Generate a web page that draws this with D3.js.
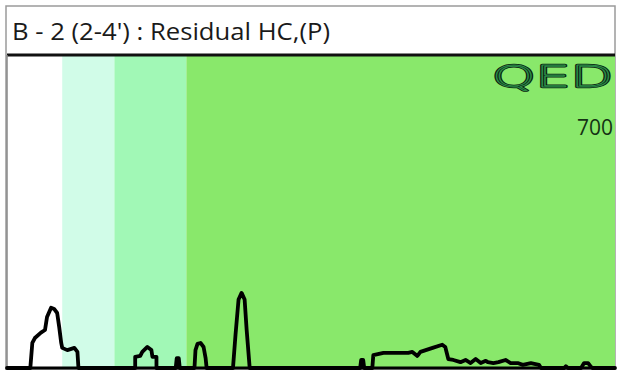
<!DOCTYPE html>
<html>
<head>
<meta charset="utf-8">
<script src="https://cdn.jsdelivr.net/npm/d3@7"></script>
<style>
  body { margin: 0; background: #fff; }
  svg { display: block; }
</style>
</head>
<body>
<div id="chart"></div>
<script>
//绘图尺寸
const width = 620;
const height = 370;

// 标题及标注
const title = "B - 2 (2-4') : Residual HC,(P)";
const scaleLabel = "700";
const logoText = "QED";

// 碳数区间底色 (保留时间, 分钟)
const bandStarts = [0, 1.09, 2.12, 3.54];
const bandEnds = [1.09, 2.12, 3.54, 12];
const bandColors = ["#ffffff", "#d1fce8", "#a1f8b6", "#89e86b"];

// 色谱线
const traceTime = [0, 0.46, 0.50, 0.55, 0.67, 0.75, 0.79, 0.87, 0.93, 0.99, 1.03, 1.07, 1.09, 1.19, 1.33, 1.39, 1.41,
    2.53, 2.53, 2.63, 2.67, 2.77, 2.85, 2.87, 2.95, 2.95,
    3.33, 3.35, 3.39, 3.41,
    3.70, 3.72, 3.76, 3.82, 3.88, 3.92, 3.94,
    4.46, 4.51, 4.57, 4.63, 4.69, 4.73, 4.79,
    6.97, 6.99, 7.03, 7.05,
    7.21, 7.23, 7.43, 7.70, 7.92, 8.00, 8.10, 8.16, 8.40, 8.59, 8.65, 8.71, 8.81, 8.95, 9.05, 9.15, 9.25, 9.35, 9.45,
    9.49, 9.60, 9.70, 9.84, 9.94, 10.08, 10.18, 10.34, 10.50, 10.54,
    11.00, 11.03, 11.07, 11.33, 11.39, 11.47, 11.53, 11.56, 12];
const traceSignal = [0, 0, 56, 67, 79, 85, 114, 135, 132, 123, 92, 56, 45, 40, 45, 36, 0,
    0, 25, 27, 36, 47, 40, 25, 25, 0,
    0, 22, 22, 0,
    0, 40, 54, 56, 47, 22, 0,
    0, 74, 153, 168, 153, 85, 0,
    0, 18, 18, 0,
    0, 29, 34, 34, 34, 36, 27, 36, 45, 52, 47, 20, 18, 13, 18, 11, 20, 11, 16,
    13, 11, 13, 18, 11, 11, 7, 11, 7, 0,
    0, 4, 0, 0, 11, 11, 2, 0, 0];

const frame = {left: 6, top: 6, right: 615, bottom: 369};
const plot = {left: 7, top: 55, right: 615, bottom: 368};

var svg = d3.select("#chart").append("svg")
    .attr("width", width).attr("height", height);

var x = d3.scaleLinear().domain([0, 12]).range([plot.left, plot.right]);
var y = d3.scaleLinear().domain([0, 700]).range([plot.bottom, plot.top]);

// 外框
svg.append("rect")
    .attr("x", frame.left).attr("y", frame.top)
    .attr("width", frame.right - frame.left).attr("height", frame.bottom - frame.top)
    .attr("fill", "#fff").attr("stroke", "#9a9a9a").attr("stroke-width", 1.5);

svg.append("text")
    .attr("x", 12).attr("y", 40)
    .attr("font-family", "'Open Sans', sans-serif")
    .attr("font-size", 23)
    .attr("fill", "#1a1a1a")
    .attr("textLength", 318)
    .attr("lengthAdjust", "spacingAndGlyphs")
    .text(title);

// 底色
svg.append("g").selectAll("rect")
    .data(bandStarts)
    .enter()
    .append("rect")
    .attr("x", d => x(d))
    .attr("y", plot.top)
    .attr("width", (d, i) => x(bandEnds[i]) - x(d))
    .attr("height", plot.bottom - plot.top)
    .attr("fill", (d, i) => bandColors[i]);

// 上边框 & 左边框
svg.append("line")
    .attr("x1", plot.left).attr("x2", plot.right)
    .attr("y1", plot.top).attr("y2", plot.top)
    .attr("stroke", "#111").attr("stroke-width", 3);
svg.append("line")
    .attr("x1", plot.left).attr("x2", plot.left)
    .attr("y1", plot.top).attr("y2", plot.bottom)
    .attr("stroke", "#888").attr("stroke-width", 1.5);

let trace = traceTime.map((t, i) => [t, traceSignal[i]]);

var line = d3.line()
    .x(d => x(d[0]))
    .y(d => y(d[1]));

svg.append("path")
    .datum(trace)
    .attr("d", line)
    .attr("fill", "none")
    .attr("stroke", "#000")
    .attr("stroke-width", 3.8)
    .attr("stroke-linejoin", "round")
    .attr("stroke-linecap", "round");

svg.append("line")
    .attr("x1", plot.left).attr("x2", plot.right)
    .attr("y1", plot.bottom).attr("y2", plot.bottom)
    .attr("stroke", "#000").attr("stroke-width", 3);

// 标志: 细字形描边, 形成管状字母
[{w: 2.4, c: "#0a1f0f"}, {w: 0.9, c: "#2b8a47"}].forEach(function (s) {
    svg.append("text")
        .attr("x", 492).attr("y", 87)
        .attr("font-family", "'DejaVu Sans', sans-serif")
        .attr("font-size", 31)
        .attr("font-weight", 200)
        .attr("fill", "none")
        .attr("stroke", s.c)
        .attr("stroke-width", s.w)
        .attr("stroke-linejoin", "round")
        .attr("textLength", 121)
        .attr("lengthAdjust", "spacingAndGlyphs")
        .text(logoText);
});

svg.append("text")
    .attr("x", 613).attr("y", 135)
    .attr("text-anchor", "end")
    .attr("font-family", "'Open Sans', sans-serif")
    .attr("font-size", 21)
    .attr("fill", "#143214")
    .text(scaleLabel);
</script>
</body>
</html>
